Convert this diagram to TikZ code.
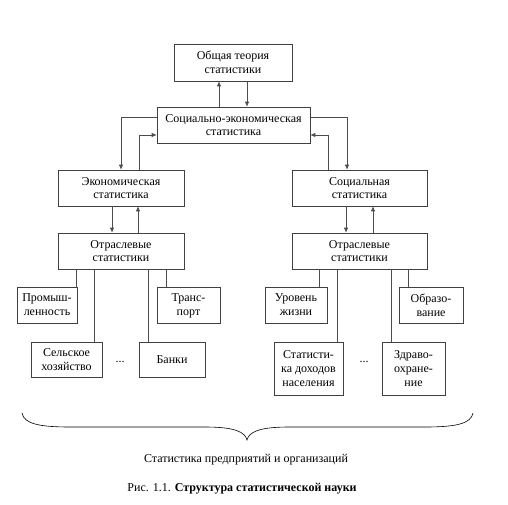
\documentclass[tikz,border=0pt]{standalone}
\usepackage{fontspec}
\setmainfont{Liberation Serif}
\usepackage{tikz}
\usetikzlibrary{arrows.meta}

\tikzset{
	blk/.style={draw=black!75, line width=0.6pt, minimum height=36pt, inner sep=0pt, align=center, font=\fontsize{12}{13.8}\selectfont},
	ln/.style={draw=black!70, line width=0.7pt},
	arr/.style={ln, -{Latex[length=5pt,width=4.5pt]}},
}

\begin{document}
\begin{tikzpicture}[x=1pt, y=-1pt]
	\useasboundingbox (0,0) rectangle (508,505);

	\node[blk, minimum width=118pt, minimum height=37pt] (top) at (233,62.5) {Общая теория\\статистики};
	\node[blk, minimum width=153pt] (soc) at (233.5,125) {Социально-экономическая\\статистика};
	\node[blk, minimum width=126pt] (econ) at (121,188) {Экономическая\\статистика};
	\node[blk, minimum width=135pt] (social) at (359.5,188) {Социальная\\статистика};
	\node[blk, minimum width=126pt] (otrL) at (121,251) {Отраслевые\\статистики};
	\node[blk, minimum width=135pt] (otrR) at (359.5,251) {Отраслевые\\статистики};

	\node[blk, minimum width=60pt] (prom) at (47,305) {Промыш-\\ленность};
	\node[blk, minimum width=63pt] (trans) at (188.5,305.5) {Транс-\\порт};
	\node[blk, minimum width=71pt, minimum height=35pt] (sel) at (66.5,359.5) {Сельское\\хозяйство};
	\node[blk, minimum width=66pt, minimum height=35pt] (bank) at (172,359.5) {Банки};
	\node[blk, minimum width=62pt] (urov) at (296,305) {Уровень\\жизни};
	\node[blk, minimum width=64pt] (obraz) at (431,305) {Образо-\\вание};
	\node[blk, minimum width=69pt, minimum height=53pt] (dohod) at (308.5,368.5) {Статисти-\\ка доходов\\населения};
	\node[blk, minimum width=63pt, minimum height=53pt] (zdrav) at (413.5,368.5) {Здраво-\\охране-\\ние};

	\node[font=\fontsize{12}{13.8}\selectfont] (dotsL) at (120,362) {...};
	\node[font=\fontsize{12}{13.8}\selectfont] (dotsR) at (364,362) {...};

	% top and middle levels
	\draw[arr] ([xshift=-14.5pt]soc.north) -- ([xshift=-14pt]top.south);
	\draw[arr] ([xshift=14pt]top.south) -- ([xshift=13.5pt]soc.north);
	\draw[arr] ([yshift=8pt]soc.west) -| (econ.north);
	\draw[arr] ([xshift=18pt]econ.north) |- ([yshift=-10pt]soc.west);
	\draw[arr] ([yshift=8pt]soc.east) -| ([xshift=-12.5pt]social.north);
	\draw[arr] ([xshift=-31.5pt]social.north) |- ([yshift=-10pt]soc.east);

	\draw[arr] ([xshift=-9pt]econ.south) -- ([xshift=-9pt]otrL.north);
	\draw[arr] ([xshift=17pt]otrL.north) -- ([xshift=17pt]econ.south);
	\draw[arr] ([xshift=-13.5pt]social.south) -- ([xshift=-13.5pt]otrR.north);
	\draw[arr] ([xshift=13.5pt]otrR.north) -- ([xshift=13.5pt]social.south);

	% branches
	\draw[ln] ([xshift=-45pt]otrL.south) -- ([xshift=29pt]prom.north);
	\draw[ln] ([xshift=-27pt]otrL.south) -- ([xshift=27.5pt]sel.north);
	\draw[ln] ([xshift=27pt]otrL.south) -- ([xshift=-24pt]bank.north);
	\draw[ln] ([xshift=45pt]otrL.south) -- ([xshift=-22.5pt]trans.north);
	\draw[ln] ([xshift=-40.5pt]otrR.south) -- ([xshift=23pt]urov.north);
	\draw[ln] ([xshift=-22pt]otrR.south) -- ([xshift=29pt]dohod.north);
	\draw[ln] ([xshift=31.5pt]otrR.south) -- ([xshift=-22.5pt]zdrav.north);
	\draw[ln] ([xshift=49pt]otrR.south) -- ([xshift=-22.5pt]obraz.north);

	% brace
	\draw[line width=0.6pt] (22,413) .. controls (24,424) and (40,427) .. (70,427) -- (205,427)
		.. controls (235,427) and (245,432) .. (247,440) .. controls (249,432) and (259,427) .. (289,427)
		-- (425,427) .. controls (455,427) and (471,424) .. (473,413);

	\node[font=\fontsize{12}{13.8}\selectfont] (org) at (246,460) {Статистика предприятий и организаций};
	\node[font=\fontsize{12}{13.8}\selectfont] (cap) at (242,489) {Рис. 1.1. \textbf{Структура статистической науки}};
\end{tikzpicture}
\end{document}
